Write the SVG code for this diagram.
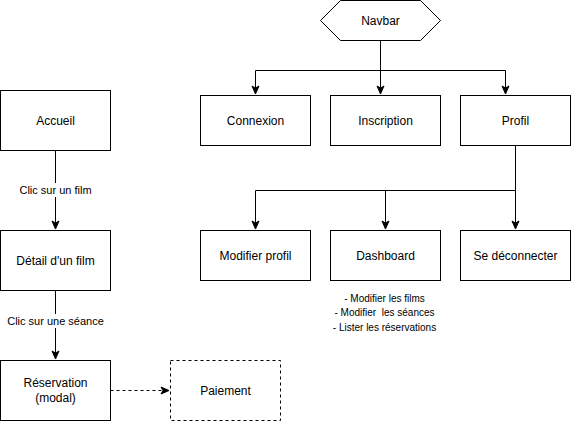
<svg xmlns="http://www.w3.org/2000/svg" width="571" height="422" viewBox="0 0 571 422">
<style>
.box{fill:#fff;stroke:#000;stroke-width:1}
.dash{stroke-dasharray:3 3}
.t{font-family:"Liberation Sans",Arial,Helvetica,sans-serif;font-size:12px;fill:#000;text-anchor:middle;dominant-baseline:central}
.lbl{font-size:11px}
.sm{font-size:10px}
.c{fill:none;stroke:#000;stroke-width:1}
</style>
<defs>
<marker id="arr" markerUnits="userSpaceOnUse" markerWidth="10" markerHeight="10" viewBox="0 0 10 10" refX="9" refY="5" orient="auto">
<path d="M1,1.5 L9,5 L1,8.5 L3,5 Z" fill="#000" stroke="#000" stroke-width="1"/>
</marker>
</defs>
<rect width="571" height="422" fill="#fff"/>
<g id="connectors">
<path class="c" d="M380.5,40.5 V94"  marker-end="url(#arr)"/>
<path class="c" d="M380.5,70.5 H255.5 V94" marker-end="url(#arr)"/>
<path class="c" d="M380.5,70.5 H505.5 V94" marker-end="url(#arr)"/>
<path class="c" d="M515.5,145.5 V229" marker-end="url(#arr)"/>
<path class="c" d="M515.5,190.5 H255.5 V229" marker-end="url(#arr)"/>
<path class="c" d="M385.5,190.5 V229" marker-end="url(#arr)"/>
<path class="c" d="M55.5,150.5 V229" marker-end="url(#arr)"/>
<path class="c" d="M55.5,290.5 V359" marker-end="url(#arr)"/>
<path class="c dash" d="M110.5,390.5 H169" marker-end="url(#arr)"/>
<rect x="20" y="183" width="71" height="14" fill="#fff"/>
<text class="t lbl" x="55.5" y="190">Clic sur un film</text>
<rect x="7" y="314" width="97" height="14" fill="#fff"/>
<text class="t lbl" x="55.5" y="321">Clic sur une séance</text>
</g>
<g id="navbar">
<polygon class="box" points="320.5,20.5 340.5,0.5 420.5,0.5 440.5,20.5 420.5,40.5 340.5,40.5"/>
<text class="t" x="380.5" y="20.5">Navbar</text>
</g>
<g id="connexion">
<rect class="box" x="200.5" y="95.5" width="110" height="50"/>
<text class="t" x="255.5" y="120.5">Connexion</text>
</g>
<g id="inscription">
<rect class="box" x="330.5" y="95.5" width="110" height="50"/>
<text class="t" x="385.5" y="120.5">Inscription</text>
</g>
<g id="profil">
<rect class="box" x="460.5" y="95.5" width="110" height="50"/>
<text class="t" x="515.5" y="120.5">Profil</text>
</g>
<g id="modifier-profil">
<rect class="box" x="200.5" y="230.5" width="110" height="50"/>
<text class="t" x="255.5" y="255.5">Modifier profil</text>
</g>
<g id="dashboard">
<rect class="box" x="330.5" y="230.5" width="110" height="50"/>
<text class="t" x="385.5" y="255.5">Dashboard</text>
<text class="t sm" x="384.5" y="298">- Modifier les films</text>
<text class="t sm" x="384.5" y="312" xml:space="preserve">- Modifier  les séances</text>
<text class="t sm" x="384.5" y="327">- Lister les réservations</text>
</g>
<g id="se-deconnecter">
<rect class="box" x="460.5" y="230.5" width="110" height="50"/>
<text class="t" x="515.5" y="255.5">Se déconnecter</text>
</g>
<g id="accueil">
<rect class="box" x="0.5" y="90.5" width="110" height="60"/>
<text class="t" x="55.5" y="120.5">Accueil</text>
</g>
<g id="detail-film">
<rect class="box" x="0.5" y="230.5" width="110" height="60"/>
<text class="t" x="55.5" y="260.5">Détail d'un film</text>
</g>
<g id="reservation">
<rect class="box" x="0.5" y="360.5" width="110" height="60"/>
<text class="t" x="55.5" y="383">Réservation</text>
<text class="t" x="55.5" y="398">(modal)</text>
</g>
<g id="paiement">
<rect class="box dash" x="170.5" y="360.5" width="110" height="60"/>
<text class="t" x="225.5" y="390.5">Paiement</text>
</g>
</svg>
